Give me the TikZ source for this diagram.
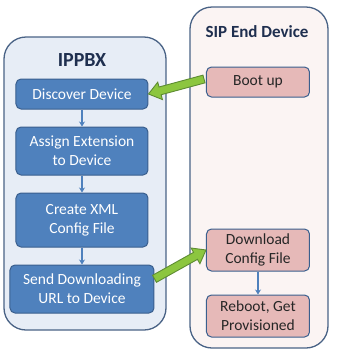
\documentclass[tikz,border=0pt]{standalone}
\usepackage{fontspec}
\setmainfont{Carlito}
\usepackage{tikz}
\usetikzlibrary{positioning}
\usetikzlibrary{calc}
\usetikzlibrary{arrows.meta}
\definecolor{mnavy}{HTML}{1F2F4F}
\definecolor{mframe}{HTML}{4A6386}
\definecolor{mblue}{HTML}{4F81BD}
\definecolor{mblueline}{HTML}{3A5F8E}
\definecolor{mbluebg}{HTML}{E7EDF6}
\definecolor{mpink}{HTML}{E6B9B8}
\definecolor{mpinkbg}{HTML}{FBF4F3}
\definecolor{mgreen}{HTML}{8CC63F}
\definecolor{mgreenline}{HTML}{5E8C32}
\tikzset{
    container/.style={draw=mframe, line width=1.3pt, rounded corners=22pt},
    title/.style={font=\fontsize{20}{22}\selectfont\bfseries, text=mnavy},
    bluebox/.style={draw=mblueline, fill=mblue, line width=1pt, rounded corners=5pt,
        text=white, align=center, font=\fontsize{15.5}{19}\selectfont},
    pinkbox/.style={draw=mblueline, fill=mpink, line width=1pt, rounded corners=5pt,
        text=black!85, align=center, font=\fontsize{15.5}{19}\selectfont},
    flow/.style={draw=mblue, line width=1.1pt, -{Stealth[length=5pt,width=6pt]}},
    greenarrow/.style={draw=mgreenline, fill=mgreen, line width=0.9pt, line join=miter},
}
% fat arrow from #1 to #2
\newcommand{\fatarrow}[2]{%
    \coordinate (hb) at ($(#2)!12pt!(#1)$);
    \draw[greenarrow] ($(#1)!4pt!90:(#2)$) -- ($(hb)!4pt!-90:(#1)$)
        -- ($(hb)!9pt!-90:(#1)$) -- (#2) -- ($(hb)!9pt!90:(#1)$)
        -- ($(hb)!4pt!90:(#1)$) -- ($(#1)!4pt!-90:(#2)$) -- cycle;}

\begin{document}
\begin{tikzpicture}[x=1pt, y=-1pt]
    \useasboundingbox (0,0) rectangle (348,360);
    % the two sides
    \draw[container, fill=mbluebg] (4,37) rectangle (166,330);
    \draw[container, fill=mpinkbg] (190,7) rectangle (328,348);
    \node[title] (ippbx) at (82,60) {IPPBX};
    \node[title, font=\fontsize{17}{19}\selectfont\bfseries] (sip) at (257,32) {SIP End Device};

    % IPPBX steps
    \node[bluebox, minimum width=132pt, minimum height=30pt] (discover) at (82,94) {Discover Device};
    \node[bluebox, minimum width=132pt, minimum height=48pt] (assign) at (82,151) {Assign Extension\\to Device};
    \node[bluebox, minimum width=132pt, minimum height=54pt] (xml) at (82,220) {Create XML\\Config File};
    \node[bluebox, minimum width=144pt, minimum height=48pt] (send) at (82,289) {Send Downloading\\URL to Device};

    % device steps
    \node[pinkbox, minimum width=103pt, minimum height=30pt] (boot) at (258,82) {Boot up};
    \node[pinkbox, minimum width=103pt, minimum height=42pt] (download) at (258,250) {Download\\Config File};
    \node[pinkbox, minimum width=103pt, minimum height=42pt] (reboot) at (258,316) {Reboot, Get\\Provisioned};

    \draw[flow] (discover) -- (assign);
    \draw[flow] (assign) -- (xml);
    \draw[flow] (xml) -- (send);
    \draw[flow] (download) -- (reboot);

    \coordinate (bootout) at ([xshift=-2pt, yshift=3pt]boot.west);
    \coordinate (sendout) at (send.8);
    \fatarrow{bootout}{discover.east}
    \fatarrow{sendout}{download.west}
\end{tikzpicture}
\end{document}
